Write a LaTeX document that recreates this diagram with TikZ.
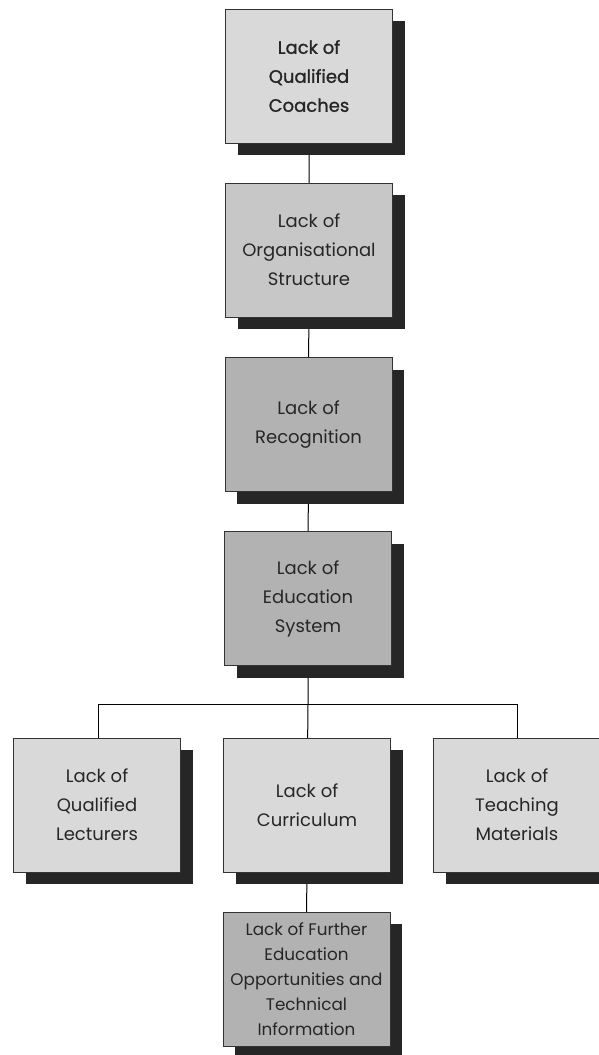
\documentclass[tikz,border=0pt]{standalone}
\usepackage{fontspec}
\setmainfont{Poppins}
\newfontfamily\heavyish[FakeBold=1.2]{Poppins}
\begin{document}
\begin{tikzpicture}[x=1pt,y=-1pt,
  every node/.style={font=\fontsize{18}{29}\selectfont, text=black!85},
  box/.style={draw=black!80, line width=0.8pt, minimum width=167pt, minimum height=134pt, align=center, inner sep=2pt},
  shadowbox/.style={fill=black!85, draw=none, minimum width=167pt, minimum height=134pt},
  lightbox/.style={box, fill=black!15},
  midbox/.style={box, fill=black!22},
  darkbox/.style={box, fill=black!30},
  link/.style={draw=black, line width=1pt}]
\useasboundingbox (0,0) rectangle (598,1055);
\fill[white] (0,0) rectangle (598,1055);
% connectors
\coordinate (hl) at (98,704);
\coordinate (hr) at (517,704);
\coordinate (hm) at (308,704);
\draw[link] (309,76) -- (309,250) -- (308.5,424.5) -- (308,598.5) -- (hm) -- (307,805) -- (306.5,979);
\draw[link] (hl) -- (hr);
\draw[link] (hl) -- (98,805);
\draw[link] (hr) -- (517,805);
% shadows
\foreach \x/\y in {309/76, 309/250, 308.5/424.5, 308/598.5, 97/805, 307/805, 517/805, 306.5/979}
  \node[shadowbox] at (\x+12,\y+12) {};
% boxes
\node[lightbox] (b1) at (309,76) {\heavyish Lack of\\\heavyish Qualified\\\heavyish Coaches};
\node[midbox] (b2) at (309,250) {Lack of\\Organisational\\Structure};
\node[darkbox] (b3) at (308.5,424.5) {Lack of\\Recognition};
\node[darkbox] (b4) at (308,598.5) {Lack of\\Education\\System};
\node[lightbox] (b5) at (97,805) {Lack of\\Qualified\\Lecturers};
\node[lightbox] (b6) at (307,805) {Lack of\\Curriculum};
\node[lightbox] (b7) at (517,805) {Lack of\\Teaching\\Materials};
\node[darkbox, font=\fontsize{16.8}{25}\selectfont] (b8) at (306.5,979) {Lack of Further\\Education\\Opportunities and\\Technical\\Information};
\end{tikzpicture}
\end{document}
